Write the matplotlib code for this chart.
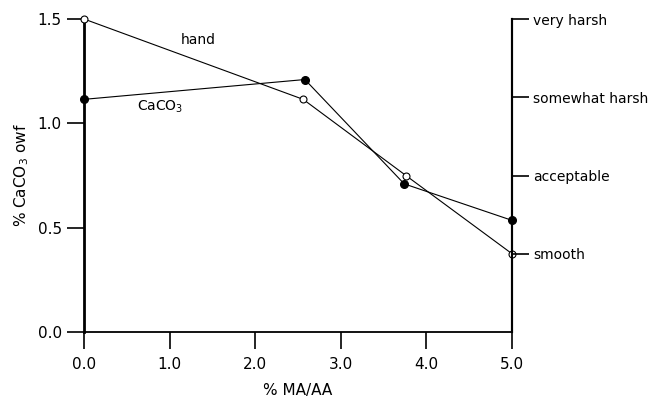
import matplotlib.pyplot as plt

# % MA/AA and % CaCO3 owf
x_hand = [0.0, 2.56, 3.76, 5.0]
y_hand = [1.50, 1.115, 0.75, 0.375]
x_caco3 = [0.0, 2.58, 3.74, 5.0]
y_caco3 = [1.115, 1.21, 0.71, 0.535]

x_ticks = [0.0, 1.0, 2.0, 3.0, 4.0, 5.0]
y_ticks = [0.0, 0.5, 1.0, 1.5]
feel_pos = [0.375, 0.75, 1.125, 1.5]
feel_labels = ['smooth', 'acceptable', 'somewhat harsh', 'very harsh']

plt.rcParams['font.family'] = ['DejaVu Sans']

fig = plt.figure(figsize=(6.58, 4.01), dpi=100)
ax = fig.add_axes([0.1277, 0.172, 0.6505, 0.7806])

ax.plot(x_hand, y_hand, color='black', lw=0.8, marker='o', ms=5,
        mfc='white', mec='black', mew=0.8, clip_on=False, zorder=5)
ax.plot(x_caco3, y_caco3, color='black', lw=0.8, marker='o', ms=5.5,
        mfc='black', mec='black', clip_on=False, zorder=5)

ax.text(1.33, 1.40, 'hand', fontsize=10, ha='center', va='center')
ax.text(0.89, 1.08, 'CaCO$_3$', fontsize=10, ha='center', va='center')

ax.set_xlim(0, 5)
ax.set_ylim(0, 1.5)
ax.set_xticks(x_ticks, [f'{v:.1f}' for v in x_ticks])
ax.set_yticks(y_ticks, [f'{v:.1f}' for v in y_ticks])
ax.tick_params(axis='both', direction='out', length=12, width=1.2,
               labelsize=11, pad=4)
ax.tick_params(axis='x', pad=6)

ax.spines['top'].set_visible(False)
ax.spines['left'].set_linewidth(2)
ax.spines['bottom'].set_linewidth(1.3)
ax.spines['right'].set_linewidth(1.5)

ax2 = ax.twinx()
ax2.set_ylim(0, 1.5)
ax2.set_yticks(feel_pos, feel_labels)
ax2.tick_params(axis='y', direction='out', length=12, width=1.2,
                labelsize=10, pad=3)
for s in ['top', 'left', 'bottom']:
    ax2.spines[s].set_visible(False)
ax2.spines['right'].set_linewidth(1.5)

ax.set_xlabel('% MA/AA', fontsize=11, labelpad=8)
ax.set_ylabel('% CaCO$_3$ owf', fontsize=11, labelpad=5)

fig.savefig('out.png', dpi=100)
